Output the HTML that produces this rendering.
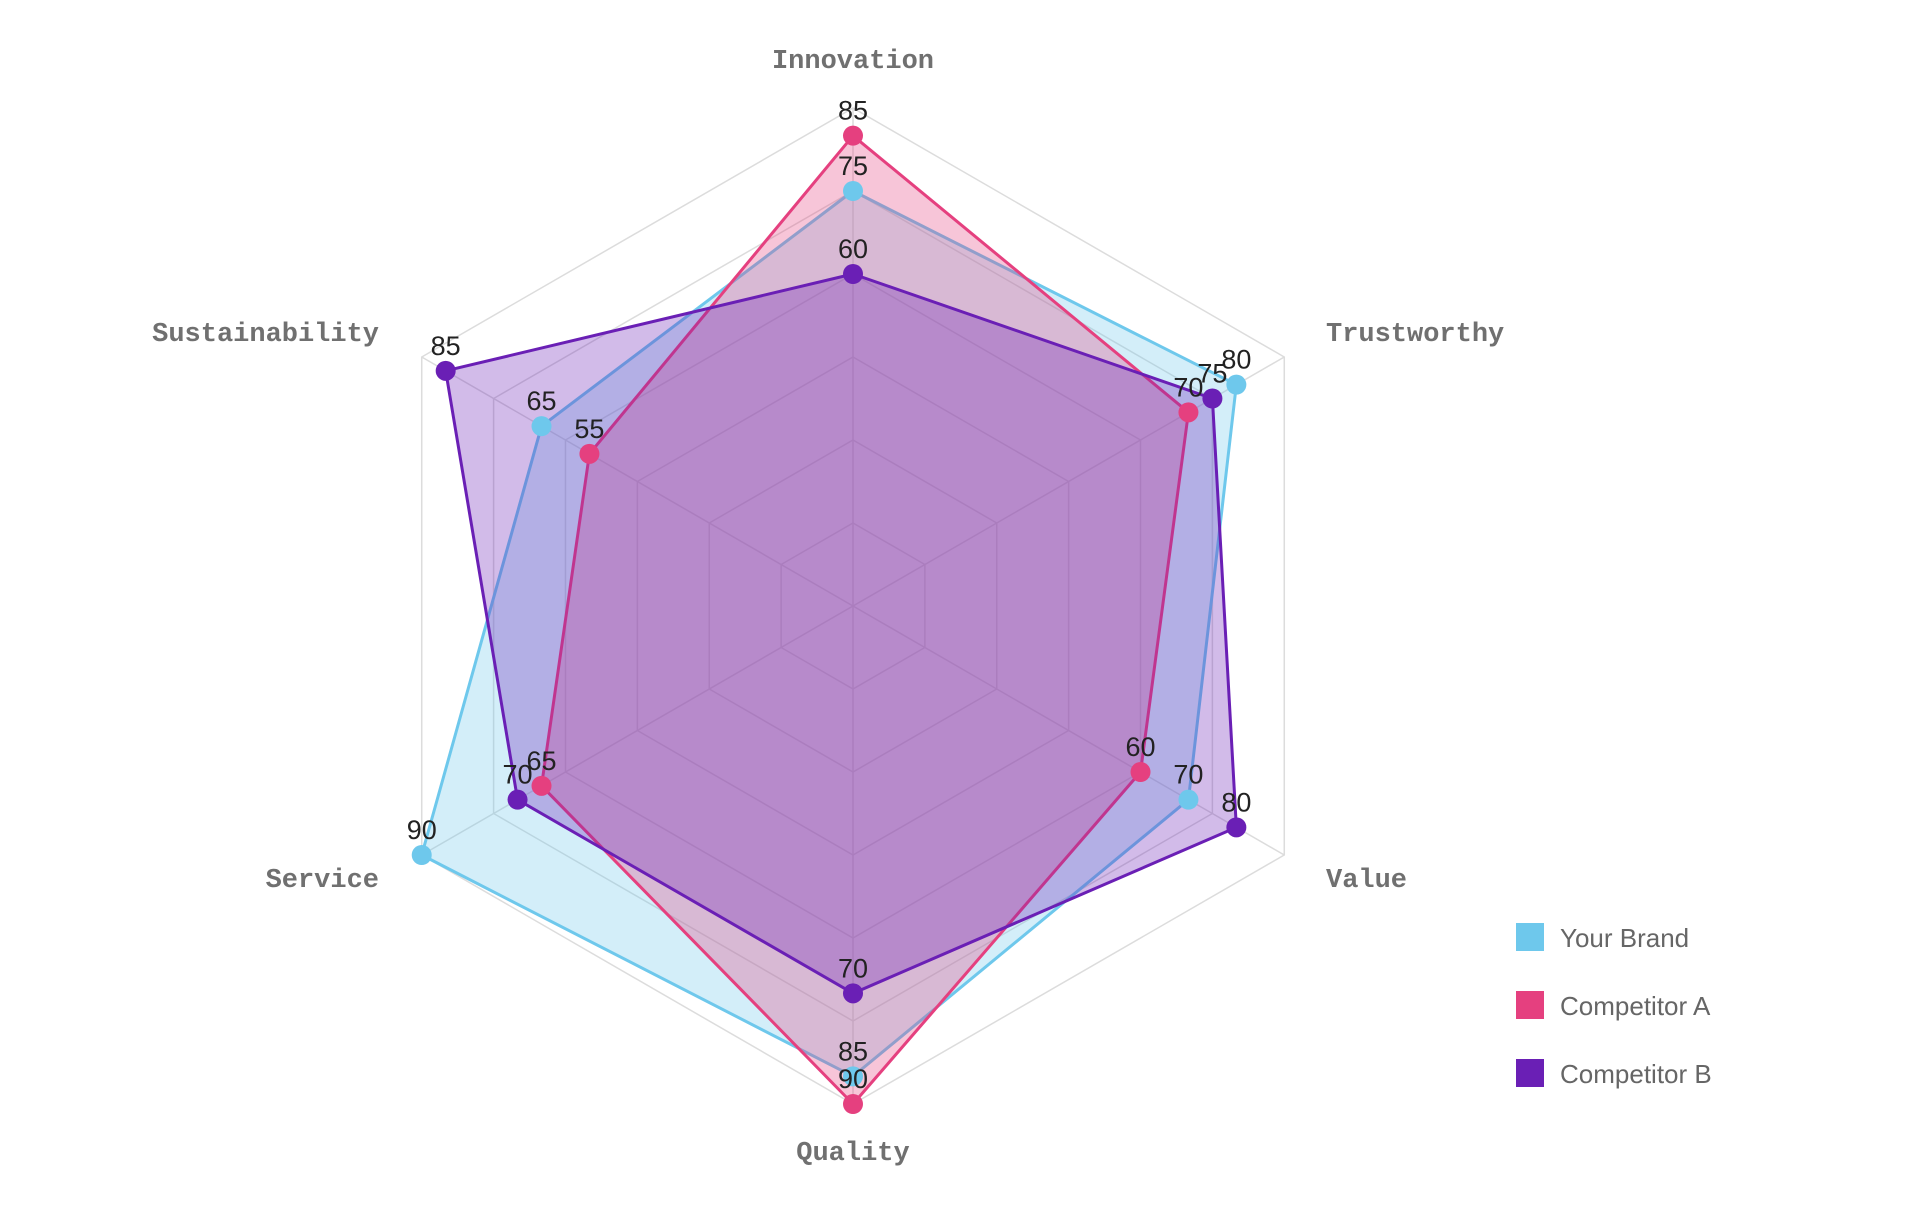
<!DOCTYPE html>
<html><head><meta charset="utf-8"><style>
html,body{margin:0;padding:0;background:#fff;}
svg{display:block;}
</style></head><body>
<svg id="c" width="1910" height="1230" xmlns="http://www.w3.org/2000/svg">
<g id="grid"></g><g id="series"></g><g id="lbl"></g>
<g font-family="Liberation Mono, monospace" font-weight="bold" font-size="27" fill="#707070">
<text x="853" y="68" text-anchor="middle">Innovation</text>
<text x="1326" y="341">Trustworthy</text>
<text x="1326" y="887">Value</text>
<text x="853" y="1160" text-anchor="middle">Quality</text>
<text x="379" y="887" text-anchor="end">Service</text>
<text x="379" y="341" text-anchor="end">Sustainability</text>
</g>
<g font-family="Liberation Sans, Arial, sans-serif" font-size="26" fill="#666">
<rect x="1516" y="923" width="28" height="28" fill="#6ec8ec"/><text x="1560" y="947">Your Brand</text>
<rect x="1516" y="991" width="28" height="28" fill="#e5407f"/><text x="1560" y="1015">Competitor A</text>
<rect x="1516" y="1059" width="28" height="28" fill="#6a1fb5"/><text x="1560" y="1083">Competitor B</text>
</g>
</svg>
<script>
var cx=853,cy=606,k=498/90,NS="http://www.w3.org/2000/svg";
var ang=[-90,-30,30,90,150,210].map(function(a){return a*Math.PI/180;});
function pt(v,i){return [cx+v*k*Math.cos(ang[i]),cy+v*k*Math.sin(ang[i])];}
function el(t,a,p){var e=document.createElementNS(NS,t);for(var q in a)e.setAttribute(q,a[q]);p.appendChild(e);return e;}
var g=document.getElementById('grid');
for(var r=15;r<=90;r+=15){el('polygon',{points:ang.map(function(_,i){return pt(r,i).join(',')}).join(' '),fill:'none',stroke:'#dcdcdc','stroke-width':1.5},g);}
for(var i=0;i<6;i++){var p=pt(90,i);el('line',{x1:cx,y1:cy,x2:p[0],y2:p[1],stroke:'#dcdcdc','stroke-width':1.5},g);}
var S=[
 {c:'#6ec8ec',f:'rgba(110,200,236,0.3)',d:[75,80,70,85,90,65]},
 {c:'#e5407f',f:'rgba(229,64,127,0.3)',d:[85,70,60,90,65,55]},
 {c:'#6a1fb5',f:'rgba(106,31,181,0.3)',d:[60,75,80,70,70,85]}];
var sg=document.getElementById('series'),lg=document.getElementById('lbl');
S.forEach(function(s){
 var pts=s.d.map(function(v,i){return pt(v,i);});
 el('polygon',{points:pts.map(function(p){return p.join(',')}).join(' '),fill:s.f,stroke:s.c,'stroke-width':3,'stroke-linejoin':'round'},sg);
});
S.forEach(function(s){
 s.d.forEach(function(v,i){var p=pt(v,i);
  el('circle',{cx:p[0],cy:p[1],r:10,fill:s.c},sg);
  var t=el('text',{x:p[0],y:p[1]-16,'text-anchor':'middle','font-family':'Liberation Sans, Arial, sans-serif','font-size':27,fill:'#222'},lg);t.textContent=v;});
});
</script>
</body></html>
